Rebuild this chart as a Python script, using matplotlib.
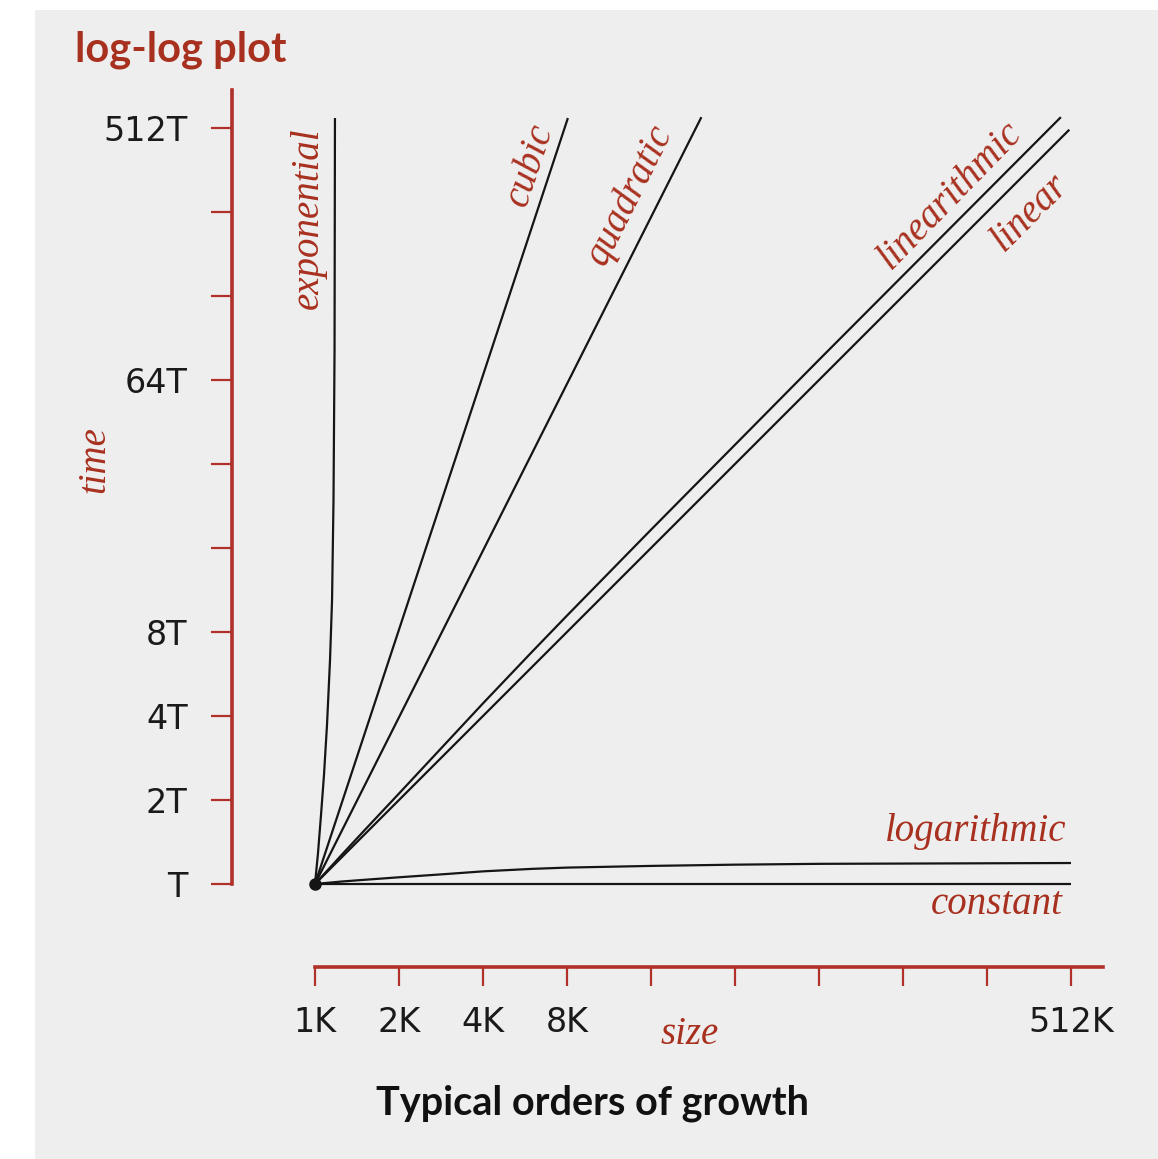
import numpy as np
import matplotlib.pyplot as plt
from matplotlib.patches import Rectangle
from matplotlib.ticker import NullLocator

# problem size in K, running time in units of T
size_ticks = [1, 2, 4, 8, 16, 32, 64, 128, 256, 512]
size_labels = ['1K', '2K', '4K', '8K', '', '', '', '', '', '512K']
time_ticks = [1, 2, 4, 8, 16, 32, 64, 128, 256, 512]
time_labels = ['T', '2T', '4T', '8T', '', '', '64T', '', '', '512T']

constant_n = [1, 512]
constant_t = [1, 1]

logarithmic_n = [1, 1.25, 1.5, 2, 3, 4, 6, 8, 16, 32, 64, 512]
logarithmic_t = [1, 1.021, 1.035, 1.057, 1.087, 1.110, 1.133, 1.145, 1.161,
                 1.173, 1.181, 1.189]

linear_n = [1, 505]
linear_t = [1, 505]

linearithmic_n = [1, 1.25, 1.5, 2, 3, 4, 6, 8, 16, 32, 64, 471]
linearithmic_t = [1, 1.276, 1.553, 2.11, 3.26, 4.44, 6.8, 9.16, 18.6, 37.5,
                  75.6, 560]

quadratic_n = [1, 24.25]
quadratic_t = [1, 560]

cubic_n = [1, 8.06]
cubic_t = [1, 556]

exponential_n = [1, 1.025, 1.051, 1.077, 1.104, 1.132, 1.151, 1.165, 1.175, 1.179]
exponential_t = [1, 1.29, 1.77, 2.46, 3.71, 6.35, 10.4, 23.8, 82.0, 556]

RED = '#b0302a'
TXT_RED = '#a8301f'
W, H = 1158, 1159
X0, Y0, STEP = 315, 884, 84   # pixel of (1K, T) and pixels per doubling


def nx(px):
    return 2 ** ((px - X0) / STEP)


def ty(py):
    return 2 ** ((Y0 - py) / STEP)


fig = plt.figure(figsize=(W / 100, H / 100), dpi=100)
fig.patch.set_facecolor('white')
fig.patches.append(Rectangle((35 / W, 0), 1 - 35 / W, 1 - 10 / H,
                             transform=fig.transFigure, facecolor='#eeeeee',
                             edgecolor='none', zorder=-10))

ax = fig.add_axes([0, 0, 1, 1])
ax.set_facecolor('none')
ax.set_xscale('log', base=2)
ax.set_yscale('log', base=2)
ax.set_xlim(nx(0), nx(W))
ax.set_ylim(ty(H), ty(0))

curves = [
    (constant_n, constant_t),
    (logarithmic_n, logarithmic_t),
    (linear_n, linear_t),
    (linearithmic_n, linearithmic_t),
    (quadratic_n, quadratic_t),
    (cubic_n, cubic_t),
    (exponential_n, exponential_t),
]
for n, t in curves:
    ax.plot(n, t, color='#151515', lw=1.6, solid_capstyle='butt',
            solid_joinstyle='round')
ax.plot([1], [1], 'o', color='#151515', ms=8)

# axes drawn as offset red spines
for side in ['top', 'right']:
    ax.spines[side].set_visible(False)
ax.spines['left'].set_position(('data', nx(232)))
ax.spines['left'].set_bounds(1, ty(90))
ax.spines['bottom'].set_position(('data', ty(967)))
ax.spines['bottom'].set_bounds(1, nx(1103))
for side in ['left', 'bottom']:
    ax.spines[side].set_color(RED)
    ax.spines[side].set_linewidth(2.6)

ax.set_xticks(size_ticks)
ax.set_xticklabels(size_labels)
ax.set_yticks(time_ticks)
ax.set_yticklabels(time_labels)
ax.xaxis.set_minor_locator(NullLocator())
ax.yaxis.set_minor_locator(NullLocator())
ax.tick_params(axis='y', direction='out', length=15, width=1.6, color=RED,
               pad=17, labelsize=24, labelcolor='#1a1a1a')
ax.tick_params(axis='x', direction='out', length=14, width=1.6, color=RED,
               pad=14, labelsize=24, labelcolor='#1a1a1a')

serif = dict(family='Liberation Serif', style='italic', color=TXT_RED, fontsize=28)

ax.text(nx(95), ty(460), 'time', rotation=90, ha='center', va='center', **serif)
ax.text(nx(690), ty(1035), 'size', ha='center', va='center', **serif)

# curve names, tilted along the lines
ax.text(nx(308), ty(218), 'exponential', rotation=90, ha='center', va='center',
        rotation_mode='anchor', **serif)
ax.text(nx(530), ty(165), 'cubic', rotation=np.degrees(np.arctan(3)), ha='center',
        va='center', rotation_mode='anchor', **serif)
ax.text(nx(630), ty(195), 'quadratic', rotation=np.degrees(np.arctan(2)), ha='center',
        va='center', rotation_mode='anchor', **serif)
ax.text(nx(950), ty(195), 'linearithmic', rotation=45.8, ha='center',
        va='center', rotation_mode='anchor', **serif)
ax.text(nx(1030), ty(212), 'linear', rotation=45, ha='center',
        va='center', rotation_mode='anchor', **serif)
ax.text(nx(1066), ty(832), 'logarithmic', ha='right', va='center', **serif)
ax.text(nx(1063), ty(905), 'constant', ha='right', va='center', **serif)

ax.text(nx(75), ty(50), 'log-log plot', ha='left', va='center', family='Lato',
        fontweight='bold', fontsize=30, color=TXT_RED)
ax.text(nx(592), ty(1103), 'Typical orders of growth', ha='center', va='center',
        family='Lato', fontweight='bold', fontsize=28.5, color='#111111')

fig.savefig('out.png', dpi=100)
